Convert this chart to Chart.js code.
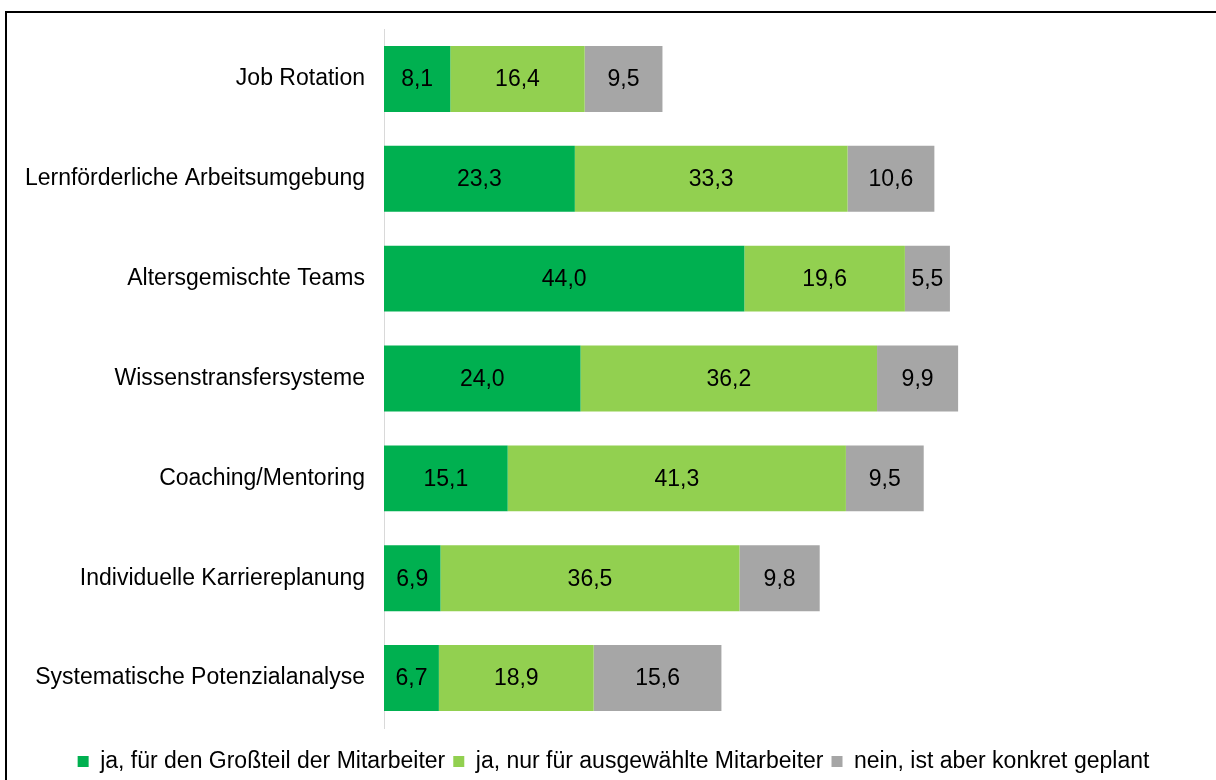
<!DOCTYPE html>
<html>
<head>
<meta charset="utf-8">
<script src="https://cdn.jsdelivr.net/npm/chart.js@4"></script>
<style>
  body { margin: 0; background: #fff; overflow: hidden; }
  #wrap { position: relative; width: 1216px; height: 780px; }
  #frame { position: absolute; left: 5px; top: 11px; width: 1300px; height: 900px; border: 2px solid #000; box-sizing: border-box; }
  canvas { position: absolute; left: 0; top: 0; }
</style>
</head>
<body>
<div id="wrap">
  <div id="frame"></div>
  <canvas id="myChart" width="1216" height="780"></canvas>
</div>
<script>
const categories = [
  "Job Rotation",
  "Lernförderliche Arbeitsumgebung",
  "Altersgemischte Teams",
  "Wissenstransfersysteme",
  "Coaching/Mentoring",
  "Individuelle Karriereplanung",
  "Systematische Potenzialanalyse"
];
const seriesNames = [
  "ja, für den Großteil der Mitarbeiter",
  "ja, nur für ausgewählte Mitarbeiter",
  "nein, ist aber konkret geplant"
];
const jaGrossteil = [8.1, 23.3, 44.0, 24.0, 15.1, 6.9, 6.7];
const jaAusgewaehlt = [16.4, 33.3, 19.6, 36.2, 41.3, 36.5, 18.9];
const neinGeplant = [9.5, 10.6, 5.5, 9.9, 9.5, 9.8, 15.6];

const FONT = "'Liberation Sans', Arial, sans-serif";
const SIZE = 23;

// draws the numbers in the middle of each bar piece
const barLabels = {
  id: "barLabels",
  afterDatasetsDraw(chart) {
    const ctx = chart.ctx;
    ctx.save();
    ctx.font = SIZE + "px " + FONT;
    ctx.fillStyle = "#000";
    ctx.textAlign = "center";
    ctx.textBaseline = "middle";
    chart.data.datasets.forEach((ds, i) => {
      chart.getDatasetMeta(i).data.forEach((bar, j) => {
        const txt = ds.data[j].toFixed(1).replace(".", ",");
        ctx.fillText(txt, (bar.x + bar.base) / 2, bar.y + 1);
      });
    });
    ctx.restore();
  }
};

// legend sits a little right of centre and lower in the original
const legendShift = {
  id: "legendShift",
  afterLayout(chart) {
    chart.legend.left += 12;
    chart.legend.right += 12;
    chart.legend.top += 3;
    chart.legend.bottom += 3;
  }
};

const ctx = document.getElementById("myChart").getContext("2d");
new Chart(ctx, {
  type: "bar",
  data: {
    labels: categories,
    datasets: [
      { label: seriesNames[0], data: jaGrossteil, backgroundColor: "#00B050" },
      { label: seriesNames[1], data: jaAusgewaehlt, backgroundColor: "#92D050" },
      { label: seriesNames[2], data: neinGeplant, backgroundColor: "#A6A6A6" }
    ]
  },
  options: {
    indexAxis: "y",
    responsive: false,
    animation: false,
    layout: { padding: { top: 29, right: 13, left: 0, bottom: 0 } },
    datasets: { bar: { barPercentage: 0.66, categoryPercentage: 1 } },
    scales: {
      x: {
        stacked: true, min: 0, max: 100,
        grid: { display: false, drawTicks: false },
        border: { display: false },
        ticks: { display: false },
        afterFit(scale) { scale.height = 11; }
      },
      y: {
        stacked: true,
        grid: { display: false, drawTicks: false },
        border: { color: "#D9D9D9", width: 1 },
        ticks: { color: "#000", font: { family: FONT, size: SIZE }, padding: 19 },
        afterFit(scale) {
          scale.width = 384;
          scale.paddingTop = 0;
          scale.paddingBottom = 0;
        }
      }
    },
    plugins: {
      legend: {
        position: "bottom",
        labels: {
          color: "#000",
          boxWidth: 11,
          boxHeight: 11,
          padding: 8,
          font: { family: FONT, size: SIZE }
        }
      },
      tooltip: { enabled: false }
    }
  },
  plugins: [barLabels, legendShift]
});
</script>
</body>
</html>
